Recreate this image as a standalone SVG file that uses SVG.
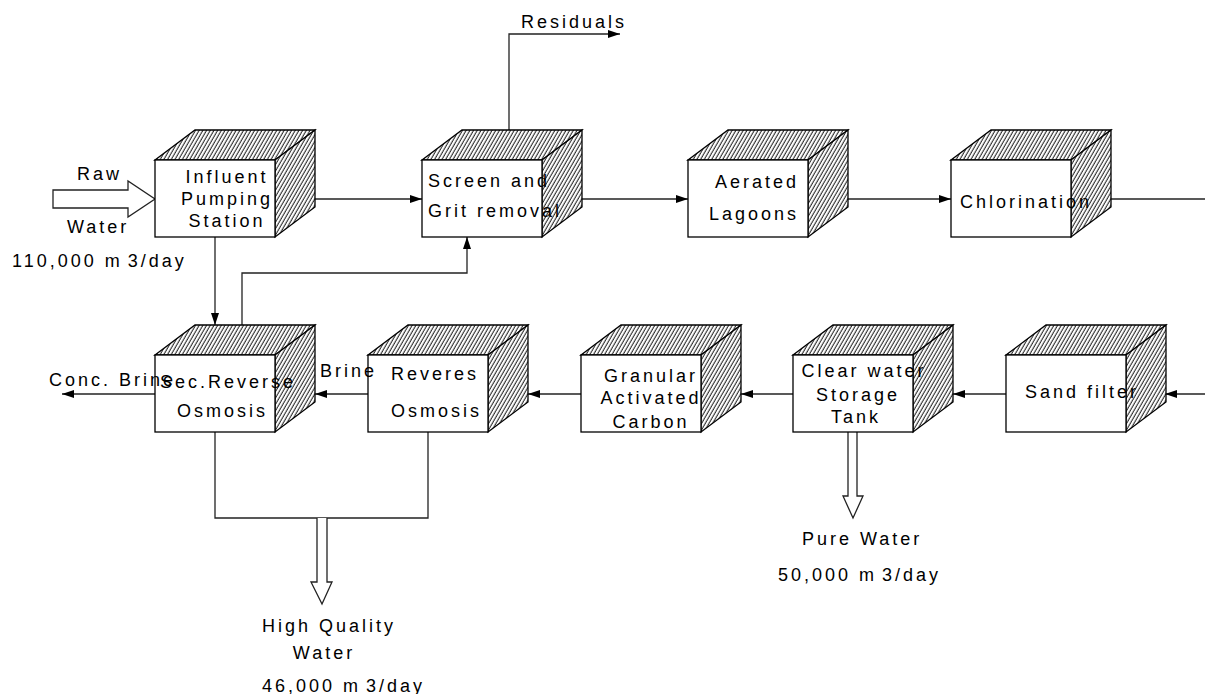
<svg xmlns="http://www.w3.org/2000/svg" width="1205" height="694" viewBox="0 0 1205 694">
<defs>
<pattern id="hatch" width="3.2" height="3.2" patternUnits="userSpaceOnUse" patternTransform="rotate(30)">
<rect width="3.2" height="3.2" fill="#fff"/>
<line x1="1" y1="0" x2="1" y2="3.2" stroke="#000" stroke-width="0.9"/>
</pattern>
<marker id="arr" markerWidth="12" markerHeight="8" refX="12" refY="4" orient="auto" markerUnits="userSpaceOnUse">
<path d="M0,0 L12,4 L0,8 Z" fill="#000"/>
</marker>
<g id="box">
<polygon points="0,0 40,-30 160,-30 120,0" fill="url(#hatch)" stroke="#000" stroke-width="1.3"/>
<polygon points="120,0 160,-30 160,47 120,77" fill="url(#hatch)" stroke="#000" stroke-width="1.3"/>
<rect x="0" y="0" width="120" height="77" fill="#fff" stroke="#000" stroke-width="1.3"/>
</g>
</defs>
<style>
text{font-family:"Liberation Sans",Arial,sans-serif;font-size:18px;letter-spacing:3px;fill:#000}
.c{text-anchor:middle}
.ln{fill:none;stroke:#222;stroke-width:1.3}
.hol{fill:#fff;stroke:#222;stroke-width:1.3}
</style>
<rect width="1205" height="694" fill="#fff"/>
<g id="connectors">
<path class="ln" d="M315,199 H422" marker-end="url(#arr)"/>
<path class="ln" d="M582,199 H688" marker-end="url(#arr)"/>
<path class="ln" d="M728,199 H951" marker-end="url(#arr)"/>
<path class="ln" d="M991,199 H1205"/>
<path class="ln" d="M509,130 V34 H620" marker-end="url(#arr)"/>
<path class="ln" d="M215,237 V325" marker-end="url(#arr)"/>
<path class="ln" d="M242,325 V273 H467 V237" marker-end="url(#arr)"/>
<path class="ln" d="M1205,394 H1165" marker-end="url(#arr)"/>
<path class="ln" d="M1006,394 H953" marker-end="url(#arr)"/>
<path class="ln" d="M793,394 H741" marker-end="url(#arr)"/>
<path class="ln" d="M581,394 H528" marker-end="url(#arr)"/>
<path class="ln" d="M368,394 H315" marker-end="url(#arr)"/>
<path class="ln" d="M155,394 H62" marker-end="url(#arr)"/>
<path class="ln" d="M215,432 V518 H428 V432"/>
<path class="hol" d="M53,190 H128 V181 L155,199 L128,217 V208 H53 Z"/>
<path class="hol" d="M317,518 V582 H311 L322,604 L332,582 H327 V518"/>
<path class="hol" d="M848,432 V496 H843 L853,518 L863,496 H857 V432"/>
</g>
<g id="influent">
<use href="#box" x="155" y="160"/>
<text class="c" x="227" y="183">Influent</text>
<text class="c" x="227" y="205">Pumping</text>
<text class="c" x="227" y="227">Station</text>
</g>
<g id="screen">
<use href="#box" x="422" y="160"/>
<text x="428" y="187">Screen and</text>
<text x="428" y="217">Grit removal</text>
</g>
<g id="aerated">
<use href="#box" x="688" y="160"/>
<text x="715" y="188">Aerated</text>
<text x="709" y="220">Lagoons</text>
</g>
<g id="chlorination">
<use href="#box" x="951" y="160"/>
<text x="960" y="208">Chlorination</text>
</g>
<g id="secreverse">
<use href="#box" x="155" y="355"/>
<text x="160" y="388">Sec.Reverse</text>
<text x="177" y="417">Osmosis</text>
</g>
<g id="reverse">
<use href="#box" x="368" y="355"/>
<text x="391" y="380">Reveres</text>
<text x="391" y="417">Osmosis</text>
</g>
<g id="granular">
<use href="#box" x="581" y="355"/>
<text class="c" x="651" y="382">Granular</text>
<text class="c" x="651" y="404">Activated</text>
<text class="c" x="651" y="428">Carbon</text>
</g>
<g id="clearwater">
<use href="#box" x="793" y="355"/>
<text class="c" x="864" y="377">Clear water</text>
<text class="c" x="858" y="401">Storage</text>
<text class="c" x="856" y="423">Tank</text>
</g>
<g id="sandfilter">
<use href="#box" x="1006" y="355"/>
<text x="1025" y="398">Sand filter</text>
</g>
<g id="labels">
<text x="77" y="180">Raw</text>
<text x="67" y="233">Water</text>
<text x="12" y="267">110,000 m<tspan dx="5">3/day</tspan></text>
<text x="521" y="28">Residuals</text>
<text x="320" y="377">Brine</text>
<text x="49" y="386">Conc. Brine</text>
<text class="c" x="329" y="632">High Quality</text>
<text class="c" x="324" y="659">Water</text>
<text x="262" y="692">46,000 m<tspan dx="5">3/day</tspan></text>
<text x="802" y="545">Pure Water</text>
<text x="778" y="581">50,000 m<tspan dx="5">3/day</tspan></text>
</g>
</svg>
